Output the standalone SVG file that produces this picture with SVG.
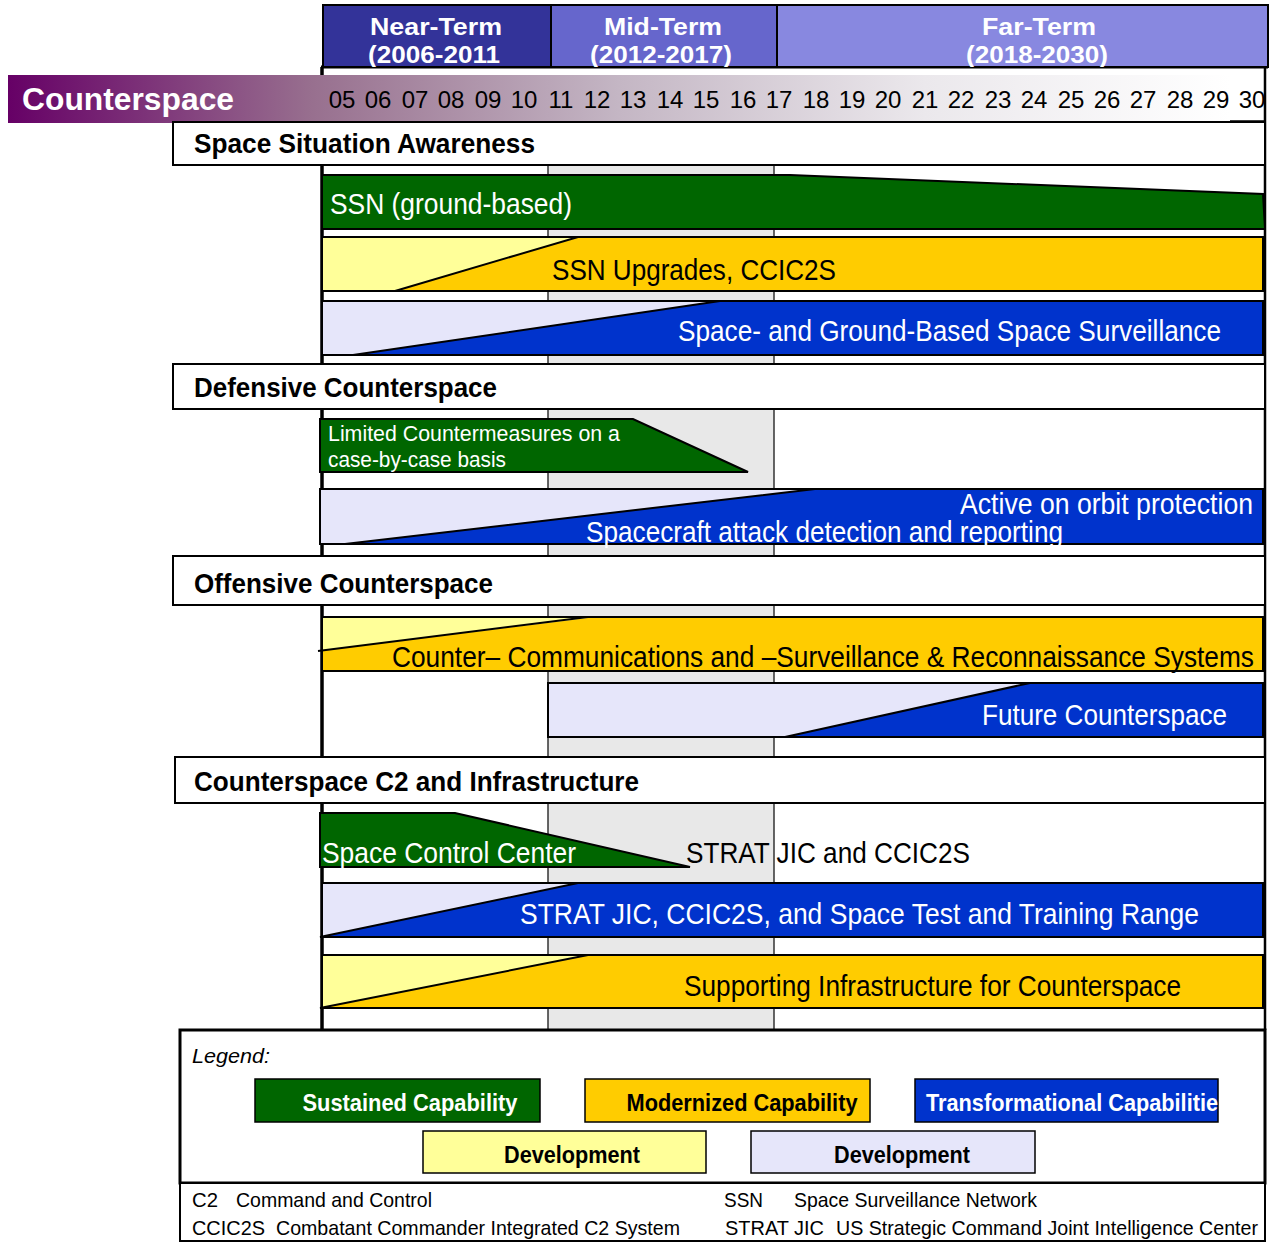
<svg xmlns="http://www.w3.org/2000/svg" width="1270" height="1243" viewBox="0 0 1270 1243">
<style>
text{font-family:"Liberation Sans",Arial,sans-serif}
.hd{font-size:24px;font-weight:bold;fill:#fff;text-anchor:middle}
.yr{font-size:24px;fill:#000;text-anchor:middle}
.sec{font-size:28px;font-weight:bold;fill:#000}
.bt{font-size:30px}
.w{fill:#fff}
.k{fill:#000}
.sm{font-size:22px}
.lg{font-size:24px;font-weight:bold;text-anchor:middle}
.ab{font-size:21px;fill:#000}
.box{fill:#fff;stroke:#000;stroke-width:2}
.ol{stroke:#000;stroke-width:2}
.grn{fill:#006600}
.yel{fill:#ffcc00}
.lyel{fill:#ffff99}
.blu{fill:#0033cc}
.lav{fill:#e6e6fa}
</style>
<defs>
<linearGradient id="gr" x1="0" y1="0" x2="1" y2="0">
<stop offset="0" stop-color="#660066"/>
<stop offset="0.25" stop-color="#98708f"/>
<stop offset="0.5" stop-color="#c4b6c4"/>
<stop offset="0.75" stop-color="#ebe8ec"/>
<stop offset="1" stop-color="#ffffff"/>
</linearGradient>
<clipPath id="hclip"><rect x="323" y="5" width="946" height="62"/></clipPath>
<clipPath id="tclip"><rect x="915" y="1079" width="303" height="43"/></clipPath>
</defs>
<rect width="1270" height="1243" fill="#fff"/>

<g id="timeline-grid">
<rect x="548" y="165" width="226" height="865" fill="#e8e8e8"/>
<line x1="548" y1="165" x2="548" y2="1030" stroke="#333" stroke-width="1.5"/>
<line x1="774" y1="165" x2="774" y2="1030" stroke="#333" stroke-width="1.5"/>
<line x1="322" y1="67" x2="322" y2="1030" stroke="#000" stroke-width="3.5"/>
<line x1="1265" y1="67" x2="1265" y2="1030" stroke="#000" stroke-width="2.5"/>
<line x1="321" y1="67" x2="1268" y2="67" stroke="#000" stroke-width="3"/>
</g>

<g id="header">
<rect x="323" y="5" width="228" height="62" fill="#333399" stroke="#000" stroke-width="2"/>
<rect x="551" y="5" width="226" height="62" fill="#6666cc" stroke="#000" stroke-width="2"/>
<rect x="777" y="5" width="491" height="62" fill="#8888e0" stroke="#000" stroke-width="2"/>
<g clip-path="url(#hclip)">
<text class="hd" x="436" y="35" textLength="132" lengthAdjust="spacingAndGlyphs">Near-Term</text>
<text class="hd" x="434" y="63" textLength="132" lengthAdjust="spacingAndGlyphs">(2006-2011</text>
<text class="hd" x="663" y="35" textLength="118" lengthAdjust="spacingAndGlyphs">Mid-Term</text>
<text class="hd" x="661" y="63" textLength="142" lengthAdjust="spacingAndGlyphs">(2012-2017)</text>
<text class="hd" x="1039" y="35" textLength="114" lengthAdjust="spacingAndGlyphs">Far-Term</text>
<text class="hd" x="1037" y="63" textLength="142" lengthAdjust="spacingAndGlyphs">(2018-2030)</text>
</g>
</g>

<g id="counterspace-bar">
<rect x="8" y="75" width="1222" height="48" fill="url(#gr)"/>
<text x="22" y="110" font-size="31" font-weight="bold" fill="#fff" textLength="212" lengthAdjust="spacingAndGlyphs">Counterspace</text>
<g class="yr">
<text x="342" y="108">05</text><text x="378" y="108">06</text><text x="415" y="108">07</text><text x="451" y="108">08</text><text x="488" y="108">09</text><text x="524" y="108">10</text><text x="561" y="108">11</text><text x="597" y="108">12</text><text x="633" y="108">13</text><text x="670" y="108">14</text><text x="706" y="108">15</text><text x="743" y="108">16</text><text x="779" y="108">17</text><text x="816" y="108">18</text><text x="852" y="108">19</text><text x="888" y="108">20</text><text x="925" y="108">21</text><text x="961" y="108">22</text><text x="998" y="108">23</text><text x="1034" y="108">24</text><text x="1071" y="108">25</text><text x="1107" y="108">26</text><text x="1143" y="108">27</text><text x="1180" y="108">28</text><text x="1216" y="108">29</text><text x="1252" y="108">30</text>
</g>
<line x1="1230" y1="121" x2="1265" y2="121" stroke="#000" stroke-width="1.5"/>
</g>

<g id="sec-ssa">
<rect class="box" x="173" y="122" width="1092" height="43"/>
<text class="sec" x="194" y="153" textLength="341" lengthAdjust="spacingAndGlyphs">Space Situation Awareness</text>
</g>
<g id="sec-dc">
<rect class="box" x="173" y="364" width="1092" height="45"/>
<text class="sec" x="194" y="397" textLength="303" lengthAdjust="spacingAndGlyphs">Defensive Counterspace</text>
</g>
<g id="sec-oc">
<rect class="box" x="173" y="556" width="1092" height="49"/>
<text class="sec" x="194" y="593" textLength="299" lengthAdjust="spacingAndGlyphs">Offensive Counterspace</text>
</g>
<g id="sec-c2">
<rect class="box" x="175" y="757" width="1090" height="46"/>
<text class="sec" x="194" y="791" textLength="445" lengthAdjust="spacingAndGlyphs">Counterspace C2 and Infrastructure</text>
</g>

<g id="bar-ssn">
<polygon class="grn ol" points="322,175 790,175 1263,194 1265,229 322,229"/>
<text class="bt w" x="330" y="214" textLength="242" lengthAdjust="spacingAndGlyphs">SSN (ground-based)</text>
</g>
<g id="bar-ssn-upgrades">
<rect class="lyel ol" x="322" y="237" width="941" height="54"/>
<polygon class="yel ol" points="395,291 578,237 1263,237 1263,291"/>
<text class="bt k" x="552" y="280" textLength="284" lengthAdjust="spacingAndGlyphs">SSN Upgrades, CCIC2S</text>
</g>
<g id="bar-space-ground">
<rect class="lav ol" x="322" y="301" width="941" height="54"/>
<polygon class="blu ol" points="353,355 720,301 1263,301 1263,355"/>
<text class="bt w" x="678" y="341" textLength="543" lengthAdjust="spacingAndGlyphs">Space- and Ground-Based Space Surveillance</text>
</g>

<g id="bar-limited">
<polygon class="grn ol" points="320,419 633,419 748,472 320,472"/>
<text class="sm w" x="328" y="441" textLength="292" lengthAdjust="spacingAndGlyphs">Limited Countermeasures on a</text>
<text class="sm w" x="328" y="467" textLength="178" lengthAdjust="spacingAndGlyphs">case-by-case basis</text>
</g>
<g id="bar-active">
<rect class="lav ol" x="320" y="489" width="943" height="55"/>
<polygon class="blu ol" points="345,544 815,489 1263,489 1263,544"/>
<text class="bt w" x="960" y="514" textLength="293" lengthAdjust="spacingAndGlyphs">Active on orbit protection</text>
<text class="bt w" x="586" y="542" textLength="477" lengthAdjust="spacingAndGlyphs">Spacecraft attack detection and reporting</text>
</g>

<g id="bar-counter-comm">
<rect class="yel ol" x="322" y="617" width="941" height="54"/>
<polygon class="lyel" points="323,618 588,618 323,650"/>
<line x1="318" y1="651" x2="588" y2="617" stroke="#000" stroke-width="2"/>
<text class="bt k" x="392" y="667" textLength="862" lengthAdjust="spacingAndGlyphs">Counter– Communications and –Surveillance &amp; Reconnaissance Systems</text>
</g>
<g id="bar-future">
<rect class="lav ol" x="548" y="683" width="715" height="54"/>
<polygon class="blu ol" points="785,737 1030,683 1263,683 1263,737"/>
<text class="bt w" x="982" y="725" textLength="245" lengthAdjust="spacingAndGlyphs">Future Counterspace</text>
</g>

<g id="bar-scc">
<polygon class="grn ol" points="320,813 455,813 690,867 320,867"/>
<text class="bt w" x="322" y="863" textLength="254" lengthAdjust="spacingAndGlyphs">Space Control Center</text>
<text class="bt k" x="686" y="863" textLength="284" lengthAdjust="spacingAndGlyphs">STRAT JIC and CCIC2S</text>
</g>
<g id="bar-stratjic">
<rect class="lav ol" x="322" y="883" width="941" height="54"/>
<polygon class="blu ol" points="320,937 578,883 1263,883 1263,937"/>
<text class="bt w" x="520" y="924" textLength="679" lengthAdjust="spacingAndGlyphs">STRAT JIC, CCIC2S, and Space Test and Training Range</text>
</g>
<g id="bar-supporting">
<rect class="lyel ol" x="322" y="955" width="941" height="53"/>
<polygon class="yel ol" points="320,1008 588,955 1263,955 1263,1008"/>
<text class="bt k" x="684" y="996" textLength="497" lengthAdjust="spacingAndGlyphs">Supporting Infrastructure for Counterspace</text>
</g>

<g id="legend">
<rect x="180" y="1030" width="1085" height="153" fill="#fff" stroke="#000" stroke-width="3"/>
<text x="192" y="1063" font-size="21" font-style="italic" fill="#000" textLength="78" lengthAdjust="spacingAndGlyphs">Legend:</text>
<rect class="grn" x="255" y="1079" width="285" height="43" stroke="#000" stroke-width="1.5"/>
<text class="lg w" x="410" y="1111" textLength="215" lengthAdjust="spacingAndGlyphs">Sustained Capability</text>
<rect class="yel" x="585" y="1079" width="285" height="43" stroke="#000" stroke-width="1.5"/>
<text class="lg k" x="742" y="1111" textLength="231" lengthAdjust="spacingAndGlyphs">Modernized Capability</text>
<rect class="blu" x="915" y="1079" width="303" height="43" stroke="#000" stroke-width="1.5"/>
<text x="926" y="1111" font-size="24" font-weight="bold" fill="#fff" textLength="292" lengthAdjust="spacingAndGlyphs">Transformational Capabilitie</text>
<rect class="lyel" x="423" y="1131" width="283" height="42" stroke="#000" stroke-width="1.5"/>
<text class="lg k" x="572" y="1163" textLength="136" lengthAdjust="spacingAndGlyphs">Development</text>
<rect class="lav" x="751" y="1131" width="284" height="42" stroke="#000" stroke-width="1.5"/>
<text class="lg k" x="902" y="1163" textLength="136" lengthAdjust="spacingAndGlyphs">Development</text>
</g>

<g id="abbreviations">
<rect x="180" y="1183" width="1085" height="58" fill="#fff" stroke="#000" stroke-width="2"/>
<text class="ab" y="1207"><tspan x="192" textLength="26" lengthAdjust="spacingAndGlyphs">C2</tspan><tspan x="236" textLength="196" lengthAdjust="spacingAndGlyphs">Command and Control</tspan></text>
<text class="ab" y="1235"><tspan x="192" textLength="73" lengthAdjust="spacingAndGlyphs">CCIC2S</tspan><tspan x="276" textLength="404" lengthAdjust="spacingAndGlyphs">Combatant Commander Integrated C2 System</tspan></text>
<text class="ab" y="1207"><tspan x="724" textLength="39" lengthAdjust="spacingAndGlyphs">SSN</tspan><tspan x="794" textLength="243" lengthAdjust="spacingAndGlyphs">Space Surveillance Network</tspan></text>
<text class="ab" y="1235"><tspan x="725" textLength="99" lengthAdjust="spacingAndGlyphs">STRAT JIC</tspan><tspan x="836" textLength="422" lengthAdjust="spacingAndGlyphs">US Strategic Command Joint Intelligence Center</tspan></text>
</g>
</svg>
